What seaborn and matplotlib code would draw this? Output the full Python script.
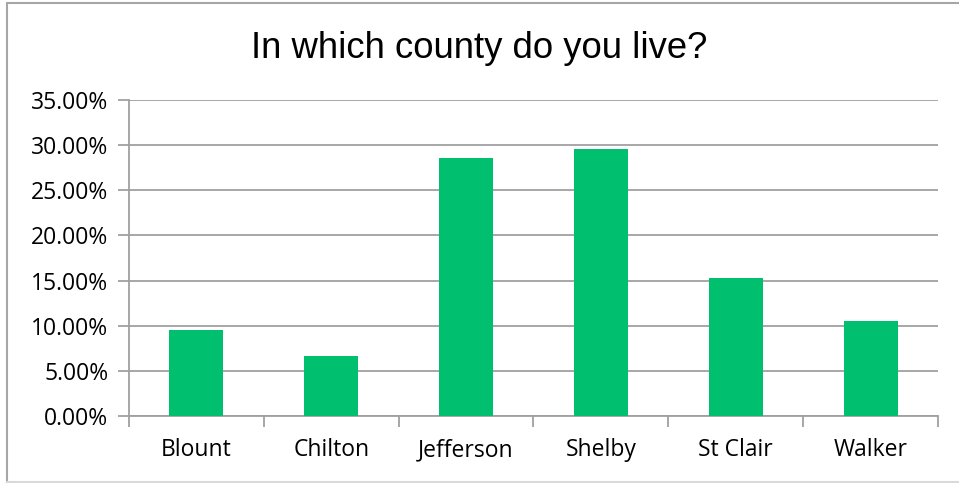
import matplotlib
matplotlib.use("Agg")
import matplotlib.pyplot as plt
import seaborn as sns
import pandas as pd
from matplotlib.lines import Line2D
from matplotlib.ticker import FuncFormatter, FixedLocator

counties = ["Blount", "Chilton", "Jefferson", "Shelby", "St Clair", "Walker"]
shares = [9.52, 6.67, 28.57, 29.52, 15.24, 10.48]
y_ticks = [0, 5, 10, 15, 20, 25, 30, 35]
title = "In which county do you live?"

df = pd.DataFrame({"county": counties, "share": shares})

sns.set_theme(style="white")
plt.rcParams["font.family"] = ["Open Sans", "DejaVu Sans"]

W, H = 959, 483
fig = plt.figure(figsize=(W / 100, H / 100), dpi=100)
ax = fig.add_axes([129 / W, (H - 416) / H, (938 - 129) / W, (416 - 100) / H])

sns.barplot(data=df, x="county", y="share", color="#00BF6F", width=0.4,
            saturation=1, ax=ax, zorder=3, edgecolor="none")

ax.set_xlim(-0.5, len(counties) - 0.5)
ax.set_ylim(0, 35)
ax.yaxis.set_major_locator(FixedLocator(y_ticks))
ax.yaxis.set_major_formatter(FuncFormatter(lambda v, p: f"{v:.2f}%"))
ax.grid(axis="y", color="#a0a0a0", linewidth=1.3, zorder=0)
ax.grid(axis="x", visible=False)

for s in ["top", "right"]:
    ax.spines[s].set_visible(False)
for s in ["left", "bottom"]:
    ax.spines[s].set_color("#a0a0a0")
    ax.spines[s].set_linewidth(1.3)

ax.set_xlabel("")
ax.set_ylabel("")
ax.tick_params(axis="y", which="major", length=8, width=1.3, color="#a0a0a0",
               labelsize=16.5, labelcolor="black", pad=7, left=True)
ax.tick_params(axis="x", which="major", length=0, labelsize=16.5,
               labelcolor="black", pad=16)
ax.set_xticks([i - 0.5 for i in range(len(counties) + 1)], minor=True)
ax.tick_params(axis="x", which="minor", length=8, width=1.3, color="#a0a0a0",
               bottom=True)

fig.text(0.5, 1 - 48 / H, title, ha="center", va="center",
         fontsize=26.3, family=["Liberation Sans", "DejaVu Sans"], color="black")

# chart border
fig.add_artist(Line2D([7 / W, 7 / W], [1 - 3 / H, 1 - 482 / H],
                      transform=fig.transFigure, color="#a6a6a6", lw=1.5))
fig.add_artist(Line2D([7 / W, 1], [1 - 3 / H, 1 - 3 / H],
                      transform=fig.transFigure, color="#a6a6a6", lw=1.5))
fig.add_artist(Line2D([7 / W, 1], [1 - 482 / H, 1 - 482 / H],
                      transform=fig.transFigure, color="#d9d9d9", lw=1.5))

fig.savefig("out.png", dpi=100)
